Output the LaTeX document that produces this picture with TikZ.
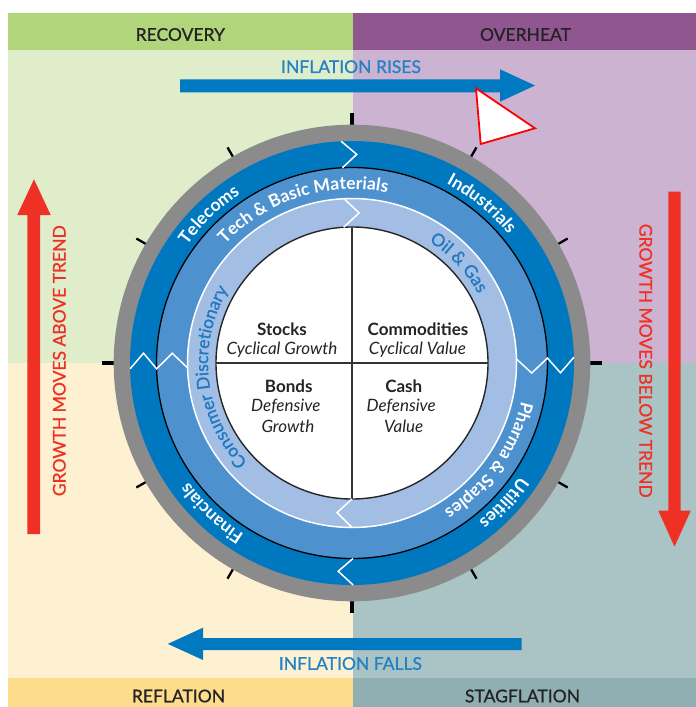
\documentclass[tikz,border=0pt]{standalone}
\usepackage{fontspec}
\setmainfont{Lato}
\newfontfamily\medfont[FakeBold=0.9]{Lato}
\usetikzlibrary{decorations.text}
\definecolor{bgTL}{HTML}{DFEDCB}
\definecolor{bgTR}{HTML}{CBB3D1}
\definecolor{bgBL}{HTML}{FDF1D2}
\definecolor{bgBR}{HTML}{AAC3C5}
\definecolor{hdTL}{HTML}{B1D57B}
\definecolor{hdTR}{HTML}{8F568F}
\definecolor{hdBL}{HTML}{FDDD8C}
\definecolor{hdBR}{HTML}{8FAFB2}
\definecolor{ringgray}{HTML}{8B8B8B}
\definecolor{darkband}{HTML}{0078C0}
\definecolor{midband}{HTML}{4D91CF}
\definecolor{lightband}{HTML}{A2BEE4}
\definecolor{arrowblue}{HTML}{0079C1}
\definecolor{textblue}{HTML}{2282C5}
\definecolor{bandtext}{HTML}{1F78C1}
\definecolor{redarrow}{HTML}{EE3124}
\definecolor{darktext}{HTML}{262324}
\newcommand{\labfont}{\fontsize{17.5}{20}\selectfont}
\newcommand{\ctrfont}{\fontsize{17}{20}\selectfont}
\tikzset{
  hdr/.style={inner sep=0pt, text=darktext, font=\labfont\medfont},
  bluelab/.style={inner sep=0pt, text=textblue, font=\labfont\medfont},
  redlab/.style={inner sep=0pt, text=redarrow, font=\labfont\medfont},
  ctr/.style={inner sep=0pt, anchor=base, text=darktext, font=\ctrfont},
  ctrb/.style={ctr, font=\ctrfont\bfseries},
  ctri/.style={ctr, font=\ctrfont\itshape},
  arclabel/.style n args={3}{decoration={text along path, text={|\labfont#3|#1}, text align=center, text color=#2}, decorate},
  bandline/.style={white, line width=1.5pt, line join=miter},
  tickbig/.style={black, line width=4pt},
  ticksmall/.style={black, line width=2.3pt}
}
\begin{document}
\begin{tikzpicture}[x=1pt,y=1pt]
\useasboundingbox (0,0) rectangle (696,-707);
\fill[white] (0,0) rectangle (696,-707);
% quadrant backgrounds
\fill[bgTL] (8,-50) rectangle (352.5,-363);
\fill[bgTR] (352.5,-50) rectangle (696,-363);
\fill[bgBL] (8,-363) rectangle (352.5,-678);
\fill[bgBR] (352.5,-363) rectangle (696,-678);
\fill[hdTL] (8,-12.7) rectangle (352.5,-50);
\fill[hdTR] (352.5,-12.7) rectangle (696,-50);
\fill[hdBL] (8,-678) rectangle (352.5,-707);
\fill[hdBR] (352.5,-678) rectangle (696,-707);
% headers
\node[hdr] (recovery) at (180.3,-34.5) {RECOVERY};
\node[hdr] (overheat) at (525.5,-34.5) {OVERHEAT};
\node[hdr] (reflation) at (178.5,-696) {REFLATION};
\node[hdr] (stagflation) at (522.5,-696) {STAGFLATION};
% inflation arrows
\fill[arrowblue] (180,-79.3) -- (500,-79.3) -- (500,-69.3) -- (535,-85.5) -- (500,-101.7) -- (500,-92.3) -- (180,-92.3) -- cycle;
\fill[arrowblue] (521.5,-638) -- (203,-638) -- (203,-627.7) -- (167.8,-643.9) -- (203,-660) -- (203,-650) -- (521.5,-650) -- cycle;
\node[bluelab] (rises) at (351,-66.7) {INFLATION RISES};
\node[bluelab] (falls) at (350.4,-663.5) {INFLATION FALLS};
% growth arrows
\fill[redarrow] (27.3,-534) -- (27.3,-215) -- (17.3,-215) -- (34,-179.3) -- (50.7,-215) -- (40,-215) -- (40,-534) -- cycle;
\fill[redarrow] (668.3,-191.7) -- (668.3,-510.7) -- (658.3,-510.7) -- (674.5,-546.7) -- (690.7,-510.7) -- (680.7,-510.7) -- (680.7,-191.7) -- cycle;
\node[redlab, rotate=90] (above) at (59.3,-360.7) {GROWTH MOVES ABOVE TREND};
\node[redlab, rotate=-90] (below) at (645.7,-360.7) {GROWTH MOVES BELOW TREND};
% wheel
\begin{scope}[shift={(352,-363)}]
  \foreach \a in {0,90,180,270} \draw[tickbig] (\a:230) -- (\a:250);
  \foreach \a in {30,60,120,150,210,240,300,330} \draw[ticksmall] (\a:230) -- (\a:249);
  \fill[ringgray] (0,0) circle[radius=238.3];
  \fill[darkband] (0,0) circle[radius=222];
  \fill[midband] (0,0) circle[radius=195.5];
  \draw[black, line width=1.3pt] (0,0) circle[radius=195.5];
  \fill[lightband] (0,0) circle[radius=164.5];
  \draw[white, line width=1.5pt] (0,0) circle[radius=164.5];
  \filldraw[fill=white, draw=black!85, line width=1.4pt] (0,0) circle[radius=136];
  \draw[black!80, line width=1.3pt] (0,136) -- (0,-136);
  \draw[black!80, line width=1.3pt] (-136,0) -- (136,0);
  % arrow boundaries
  \draw[bandline] (92.8:222) -- (88.7:208.7) -- (92.8:195.5);
  \draw[bandline] (92.8:164.5) -- (87.3:150.3) -- (93.5:136);
  \draw[bandline] (270.3:222) -- (266.2:208.7) -- (270.3:195.5);
  \draw[bandline] (270:164.5) -- (264.3:150.3) -- (270:136);
  \draw[bandline] (1.4:164.5) -- (-3.2:180) -- (1.45:195.5) -- (-2.7:208.7) -- (1.5:222);
  \draw[bandline] (181.7:164.5) -- (176.9:180) -- (181.7:195.5) -- (177.3:208.7) -- (181.5:222);
  % ring labels
  \path[arclabel={Telecoms}{white}{\bfseries}] (194:202.5) arc[start angle=194, end angle=74, radius=202.5];
  \path[arclabel={Industrials}{white}{\bfseries}] (110.8:202.5) arc[start angle=110.8, end angle=-9.2, radius=202.5];
  \path[arclabel={Utilities}{white}{\bfseries}] (17.3:202.5) arc[start angle=17.3, end angle=-102.7, radius=202.5];
  \path[arclabel={Financials}{white}{\bfseries}] (287:202.5) arc[start angle=287, end angle=167, radius=202.5];
  \path[arclabel={Tech {\&} Basic Materials}{white}{\bfseries}] (167.6:173.7) arc[start angle=167.6, end angle=47.6, radius=173.7];
  \path[arclabel={Pharma {\&} Staples}{white}{\bfseries}] (24.6:173.7) arc[start angle=24.6, end angle=-95.4, radius=173.7];
  \path[arclabel={Oil {\&} Gas}{bandtext}{\medfont}] (103.2:144) arc[start angle=103.2, end angle=-16.8, radius=144];
  \path[arclabel={Consumer Discretionary}{bandtext}{\medfont}] (266.4:144) arc[start angle=266.4, end angle=106.4, radius=144];
\end{scope}
% white marker triangle
\draw[red, line width=1.8pt, fill=white, line join=miter] (476,-88.3) -- (535,-128.3) -- (480.7,-144) -- cycle;
% centre texts
\node[ctrb] (stocks) at (282,-335) {Stocks};
\node[ctri] (stocks2) at (282,-354) {Cyclical Growth};
\node[ctrb] (comm) at (418,-335) {Commodities};
\node[ctri] (comm2) at (417.5,-354) {Cyclical Value};
\node[ctrb] (bonds) at (288.7,-392) {Bonds};
\node[ctri] (bonds2) at (285.8,-411.7) {Defensive};
\node[ctri] (bonds3) at (288,-432) {Growth};
\node[ctrb] (cash) at (403.8,-392) {Cash};
\node[ctri] (cash2) at (401.2,-411.7) {Defensive};
\node[ctri] (cash3) at (403.7,-432) {Value};
\end{tikzpicture}
\end{document}
